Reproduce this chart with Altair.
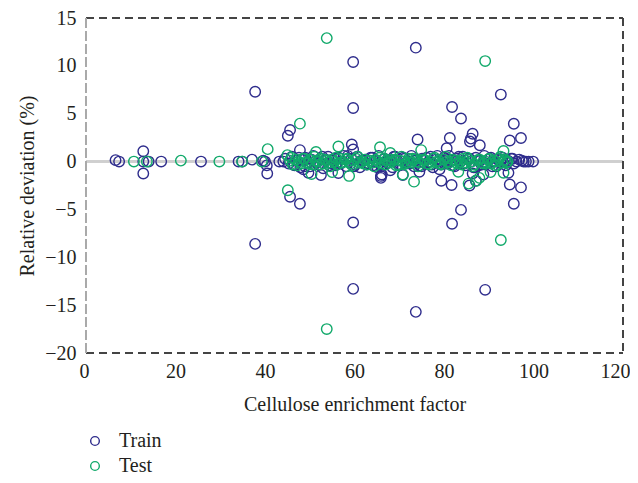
import altair as alt
import pandas as pd

# ---- data ----
train_out_x = [6.6, 7.4, 12.8, 12.8, 12.8, 14.0, 16.8, 25.7, 34.1, 34.9,
               37.1, 37.8, 37.8, 39.6, 40.0, 40.4, 40.5, 43.2, 44.1, 45.1,
               45.6, 45.6, 47.8, 47.8, 48.6, 49.7, 52.5, 56.4, 59.4, 59.7,
               59.7, 59.7, 59.7, 59.7, 65.9, 65.9, 66.1, 68.0, 70.8, 73.7,
               73.7, 74.1, 74.5, 79.0, 79.4, 80.6, 81.3, 81.7, 81.8, 81.8,
               83.8, 83.8, 85.7, 86.0, 86.4, 85.8, 86.4, 87.1, 88.0, 88.8,
               89.2, 92.7, 94.4, 94.7, 94.7, 95.6, 95.6, 97.2, 97.2, 97.8,
               98.9, 99.9]
train_out_y = [0.15, 0.0, 1.08, -1.24, 0.0, 0.0, 0.0, 0.0, 0.0, 0.0,
               0.2, 7.3, -8.6, 0.1, 0.0, -0.4, -1.24, 0.0, 0.0, 2.7,
               3.3, -3.67, 1.2, -4.4, -0.8, -1.17, -1.4, -1.2, 1.78, 10.4,
               5.6, 1.26, -6.37, -13.3, -1.5, -1.7, -1.35, -0.9, -1.4, 11.9,
               -15.7, 2.3, -1.07, -0.8, -2.0, 1.4, 2.46, -2.45, 5.7, -6.5,
               4.5, -5.05, -2.5, 2.4, 2.9, 2.1, -1.24, -2.0, 1.7, -1.35,
               -13.4, 7.0, -1.17, 2.2, -2.4, 3.95, -4.4, 2.46, -2.7, 0.0,
               0.0, 0.0]

train_band_x = [44.5, 45.3, 46.0, 46.6, 47.2, 47.9, 48.3, 49.0, 49.5, 50.1,
                50.8, 51.2, 51.9, 52.4, 53.0, 53.6, 54.1, 54.7, 55.3, 55.8,
                56.5, 57.0, 57.6, 58.2, 58.8, 59.3, 60.1, 60.6, 61.2, 61.9,
                62.5, 63.0, 63.6, 64.2, 64.8, 65.4, 66.0, 66.7, 67.2, 67.9,
                68.5, 69.1, 69.6, 70.3, 70.9, 71.5, 72.0, 72.7, 73.3, 73.9,
                74.6, 75.1, 75.8, 76.4, 77.0, 77.5, 78.2, 78.8, 79.3, 80.0,
                80.6, 81.1, 81.8, 82.4, 83.0, 83.5, 84.2, 84.8, 85.3, 86.0,
                86.6, 87.1, 87.8, 88.4, 89.0, 89.5, 90.2, 90.8, 91.3, 92.0,
                92.6, 93.1, 93.8, 94.3, 95.0, 95.6, 96.2, 96.8, 97.4, 98.3]
train_band_y = [0.3, -0.2, 0.5, -0.4, 0.1, -0.6, 0.2, 0.4, -0.1, -0.5,
                0.6, 0.0, -0.3, 0.3, -0.7, 0.2, 0.5, -0.2, 0.1, -0.4,
                0.4, -0.1, 0.6, -0.5, 0.0, 0.3, -0.3, 0.5, -0.6, 0.1,
                0.2, -0.2, 0.4, -0.4, 0.0, 0.6, -0.5, 0.3, -0.1, 0.2,
                -0.6, 0.5, 0.1, -0.3, 0.4, -0.2, 0.0, 0.6, -0.5, 0.2,
                -0.4, 0.3, 0.1, -0.1, 0.5, -0.6, 0.2, 0.0, -0.3, 0.4,
                -0.2, 0.6, 0.1, -0.5, 0.3, -0.1, 0.5, -0.4, 0.2, 0.0,
                -0.6, 0.4, 0.1, -0.3, 0.6, -0.2, 0.3, -0.5, 0.0, 0.2,
                -0.1, 0.4, -0.4, 0.1, 0.3, -0.2, 0.0, 0.2, 0.1, 0.0]

train_band2_x = [46.3, 47.6, 48.9, 50.4, 51.6, 52.8, 54.4, 55.6, 56.9, 58.5,
                 59.9, 61.5, 62.7, 64.0, 65.1, 66.4, 67.6, 68.8, 70.0, 71.2,
                 72.4, 73.6, 75.0, 76.1, 77.3, 78.5, 79.7, 80.9, 82.1, 83.3,
                 84.5, 85.7, 86.9, 88.1, 89.3, 90.5, 91.7, 92.9, 94.1, 95.3]
train_band2_y = [-0.3, 0.4, -0.5, 0.2, -0.1, 0.5, -0.4, 0.3, -0.2, 0.6,
                 -0.5, 0.1, -0.3, 0.4, -0.6, 0.2, -0.1, 0.5, -0.4, 0.3,
                 -0.2, 0.1, -0.5, 0.4, -0.3, 0.6, -0.1, 0.2, -0.4, 0.5,
                 -0.2, 0.3, -0.6, 0.1, -0.3, 0.4, -0.5, 0.2, -0.1, 0.3]

test_out_x = [10.7, 13.6, 21.2, 29.8, 34.9, 39.3, 40.6, 45.0, 45.1, 47.8,
              50.4, 51.4, 53.8, 53.8, 55.0, 56.4, 58.8, 65.7, 68.0, 70.8,
              73.3, 74.9, 83.2, 85.5, 87.2, 87.9, 89.2, 90.4, 92.7, 93.3,
              93.3]
test_out_y = [0.0, 0.0, 0.1, 0.0, 0.0, 0.0, 1.3, 0.67, -3.0, 3.96,
              -1.3, 1.0, 12.9, -17.5, -1.1, 1.57, -1.5, 1.5, 0.9, -1.35,
              -2.1, 1.2, -1.07, -2.3, -2.0, -1.7, 10.5, -1.1, -8.2, 1.1,
              -1.17]

test_band_x = [45.6, 46.2, 46.9, 47.5, 48.1, 48.8, 49.3, 50.0, 50.6, 51.3,
               51.8, 52.5, 53.1, 53.7, 54.3, 54.9, 55.5, 56.1, 56.8, 57.3,
               58.0, 58.6, 59.1, 59.8, 60.4, 61.0, 61.7, 62.3, 62.8, 63.5,
               64.1, 64.7, 65.3, 66.0, 66.6, 67.1, 67.8, 68.4, 69.0, 69.7,
               70.2, 70.9, 71.4, 72.1, 72.7, 73.4, 74.0, 74.5, 75.2, 75.8,
               76.3, 77.0, 77.6, 78.1, 78.8, 79.4, 80.0, 80.7, 81.2, 81.9,
               82.5, 83.0, 83.7, 84.3, 84.9, 85.5, 86.2, 86.7, 87.4, 88.0,
               88.6, 89.3, 89.8, 90.5, 91.1, 91.7, 92.3, 93.0, 93.6, 94.2]
test_band_y = [0.1, -0.3, 0.2, 0.0, -0.2, 0.3, -0.1, 0.2, -0.3, 0.1,
               0.0, 0.3, -0.2, 0.1, -0.1, 0.2, 0.0, -0.3, 0.3, -0.1,
               0.2, 0.0, -0.2, 0.1, 0.3, -0.1, 0.0, 0.2, -0.3, 0.1,
               -0.1, 0.2, 0.0, -0.2, 0.3, 0.1, -0.1, 0.0, 0.2, -0.3,
               0.1, 0.0, -0.2, 0.3, -0.1, 0.2, 0.0, -0.1, 0.2, 0.1,
               -0.2, 0.0, 0.3, -0.1, 0.1, -0.3, 0.2, 0.0, -0.1, 0.2,
               0.1, -0.2, 0.0, 0.3, -0.1, 0.2, 0.0, -0.3, 0.1, 0.2,
               -0.1, 0.0, 0.2, -0.2, 0.1, 0.0, 0.3, -0.1, 0.2, 0.0]

test_band2_x = [45.9, 47.2, 48.5, 49.7, 51.0, 52.2, 53.4, 54.6, 55.8, 57.0,
                58.3, 59.5, 60.7, 62.0, 63.2, 64.4, 65.6, 66.9, 68.1, 69.3,
                70.5, 71.8, 73.0, 74.2, 75.5, 76.7, 77.9, 79.1, 80.4, 81.6,
                82.8, 84.0, 85.2, 86.5, 87.7, 88.9, 90.1, 91.4, 92.6, 93.9]
test_band2_y = [0.4, -0.4, 0.3, -0.2, 0.5, -0.3, 0.2, -0.5, 0.4, -0.1,
                0.3, -0.4, 0.5, -0.2, 0.1, -0.5, 0.4, -0.3, 0.2, -0.4,
                0.5, -0.1, 0.3, -0.5, 0.2, -0.3, 0.4, -0.2, 0.5, -0.4,
                0.1, -0.3, 0.4, -0.5, 0.2, -0.2, 0.3, -0.4, 0.5, -0.1]

series_names = ["Train", "Test"]
series_colors = ["#2e2c8c", "#10a96a"]

train_x = train_out_x + train_band_x + train_band2_x
train_y = train_out_y + train_band_y + train_band2_y
test_x = test_out_x + test_band_x + test_band2_x
test_y = test_out_y + test_band_y + test_band2_y

df = pd.concat([
    pd.DataFrame({"x": train_x, "y": train_y, "set": "Train"}),
    pd.DataFrame({"x": test_x, "y": test_y, "set": "Test"}),
], ignore_index=True)

W, H = 537, 335
FONT = "Liberation Serif"

points = alt.Chart(df).mark_point(
    shape="circle", filled=False, size=110, strokeWidth=1.4, opacity=1
).encode(
    x=alt.X("x:Q", title="Cellulose enrichment factor",
            scale=alt.Scale(domain=[0, 120], nice=False, zero=False),
            axis=alt.Axis(values=[0, 20, 40, 60, 80, 100, 120], labelFlush=True,
                          labelFlushOffset=7, labelPadding=8,
                          titleY=51, titleBaseline="middle")),
    y=alt.Y("y:Q", title="Relative deviation (%)",
            scale=alt.Scale(domain=[-20, 15], nice=False, zero=False),
            axis=alt.Axis(values=[-20, -15, -10, -5, 0, 5, 10, 15], labelPadding=10,
                          titleX=-59, titleBaseline="middle")),
    color=alt.Color("set:N", title=None,
                    scale=alt.Scale(domain=series_names, range=series_colors),
                    legend=alt.Legend(orient="none", legendX=-1, legendY=413,
                                      direction="vertical", symbolType="circle",
                                      symbolSize=75, symbolStrokeWidth=1.4,
                                      symbolFillColor="transparent",
                                      labelFont=FONT, labelFontSize=20,
                                      labelColor="#231f20", labelOffset=14,
                                      rowPadding=5, padding=0)),
    order=alt.Order("order_idx:Q"),
).transform_calculate(order_idx="datum.set == 'Train' ? 0 : 1")

zero = alt.Chart(df).mark_rule(color="#cfcfcf", strokeWidth=1.6).encode(y=alt.datum(0))

dash_dark = [8, 5]
top = alt.Chart(df).mark_rule(color="#444444", strokeWidth=1.4, strokeDash=dash_dark).encode(
    x=alt.value(0), x2=alt.value(W), y=alt.value(0))
bottom = alt.Chart(df).mark_rule(color="#444444", strokeWidth=1.4, strokeDash=dash_dark).encode(
    x=alt.value(0), x2=alt.value(W), y=alt.value(H))
right = alt.Chart(df).mark_rule(color="#444444", strokeWidth=1.4, strokeDash=dash_dark).encode(
    x=alt.value(W), y=alt.value(0), y2=alt.value(H))
left = alt.Chart(df).mark_rule(color="#aaaaaa", strokeWidth=1.6, strokeDash=[10, 3]).encode(
    x=alt.value(0), y=alt.value(0), y2=alt.value(H))

chart = alt.layer(zero, points, top, bottom, right, left).properties(
    width=W, height=H,
    autosize=alt.AutoSizeParams(type="none"),
    padding={"left": 78, "top": 10, "right": 7, "bottom": 122},
).configure_view(stroke=None).configure_axis(
    domain=False, ticks=False, grid=False,
    labelFont=FONT, labelFontSize=20, labelColor="#231f20",
    titleFont=FONT, titleFontSize=20, titleColor="#231f20", titleFontWeight="normal",
)

chart.save("out.html", embed_options={"renderer": "svg", "actions": False})
